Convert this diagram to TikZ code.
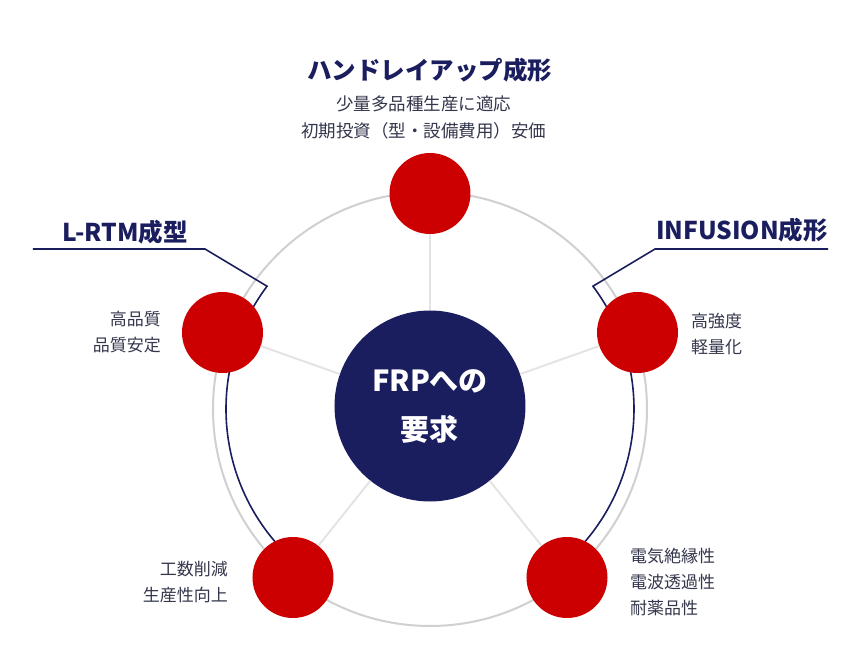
\documentclass[tikz,border=0pt]{standalone}
\usepackage{fontspec}
\setmainfont{Noto Sans CJK JP}
\definecolor{navy}{HTML}{1B1E5E}
\definecolor{frpred}{HTML}{CC0000}
\definecolor{ringgray}{HTML}{D0D0D0}
\definecolor{spokegray}{HTML}{E4E4E4}
\definecolor{labelgray}{HTML}{34374C}

\begin{document}
\begin{tikzpicture}[x=1pt, y=1pt,
    hub/.style={circle, fill=navy, minimum size=191pt, inner sep=0pt, text=white,
      align=center, font=\bfseries\fontsize{29}{49}\selectfont},
    dot/.style={circle, fill=frpred, minimum size=81pt, inner sep=0pt},
    method/.style={text=navy, inner sep=0pt, font=\bfseries\fontsize{24.5}{28}\selectfont},
    merit/.style={text=labelgray, inner sep=0pt, font=\fontsize{17}{26}\selectfont},
    spoke/.style={spokegray, line width=2pt},
    bracket/.style={navy, line width=1.6pt}]

    % Page frame
    \useasboundingbox (-430,-255) rectangle (430,409);

    % Outer ring
    \draw[ringgray, line width=2pt] (0,0) circle[radius=217pt];

    % Process brackets
    \coordinate (lrtm top) at (143:204pt);
    \coordinate (lrtm knee) at (-225,160);
    \coordinate (lrtm end) at (-397,160);
    \coordinate (inf top) at (37:204pt);
    \coordinate (inf knee) at (225,160);
    \coordinate (inf end) at (398,160);
    \draw[bracket] (lrtm end) -- (lrtm knee) -- (lrtm top)
      arc[start angle=143, end angle=226, radius=204pt];
    \draw[bracket] (inf end) -- (inf knee) -- (inf top)
      arc[start angle=37, end angle=-46, radius=204pt];

    % Hub and requirement dots
    \node[hub] (hub) at (0,3) {FRPへの\\要求};
    \node[dot] (top) at (0,215.5) {};
    \node[dot] (left) at (-207.5,76.5) {};
    \node[dot] (right) at (207.5,76.5) {};
    \node[dot] (botleft) at (-137,-168.5) {};
    \node[dot] (botright) at (137,-168.5) {};

    % Spokes
    \foreach \d in {top, left, right, botleft, botright}
      \draw[spoke] (hub) -- (\d);

    % Method titles
    \node[method] (hand) at (0,339) {ハンドレイアップ成形};
    \node[method] (lrtm) at (-305,177) {L-RTM成型};
    \node[method] (inf) at (312,179) {INFUSION成形};

    % Requirement texts
    \node[merit, align=center, font=\fontsize{17.5}{27}\selectfont] (handtxt) at (-6,292)
      {少量多品種生産に適応\\初期投資（型・設備費用）安価};
    \node[merit, align=right, anchor=east] (lefttxt) at (-269,77) {高品質\\品質安定};
    \node[merit, align=left, anchor=west] (righttxt) at (261,74.5) {高強度\\軽量化};
    \node[merit, align=right, anchor=east] (bltxt) at (-202,-173) {工数削減\\生産性向上};
    \node[merit, align=left, anchor=west] (brtxt) at (200,-173) {電気絶縁性\\電波透過性\\耐薬品性};
\end{tikzpicture}
\end{document}
